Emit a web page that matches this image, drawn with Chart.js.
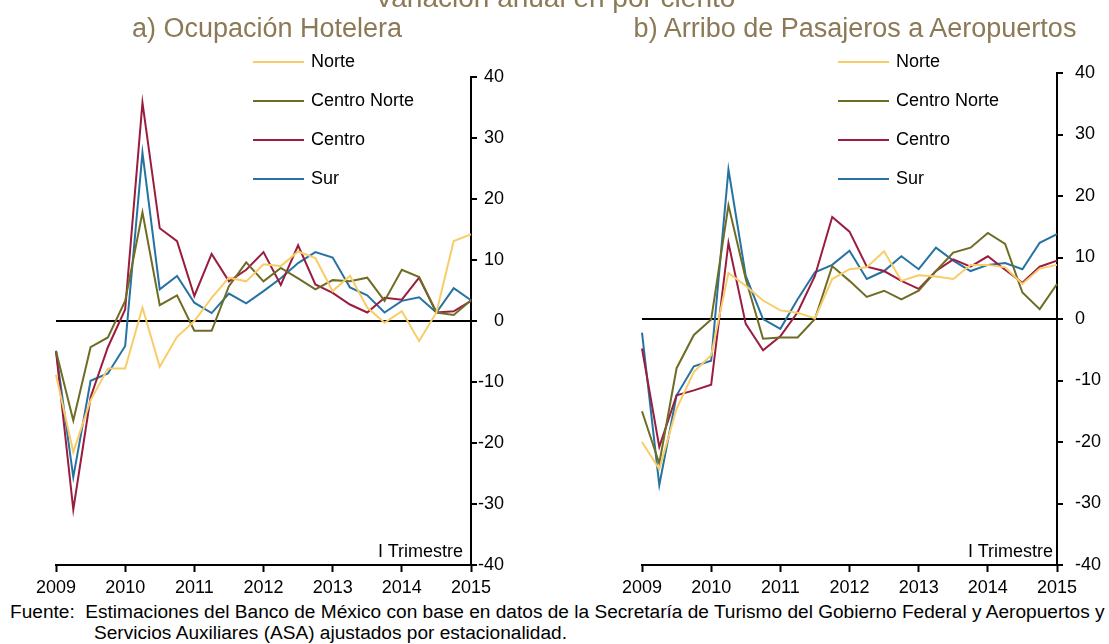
<!DOCTYPE html>
<html>
<head>
<meta charset="utf-8">
<script src="https://cdn.jsdelivr.net/npm/chart.js@4"></script>
<style>
  body { margin: 0; background: #fff; font-family: "Liberation Sans", Arial, sans-serif; }
  #wrap { position: relative; width: 1109px; height: 644px; overflow: hidden; }
  .box { position: absolute; top: 0; height: 600px; }
  .ttl { position: absolute; color: #8B7A55; font-size: 27px; white-space: nowrap; transform: translateX(-50%); }
  .leg { position: absolute; font-size: 18px; color: #000; white-space: nowrap; }
  .leg span { display: inline-block; width: 51px; height: 2px; vertical-align: middle; margin-right: 7px; }
  .tri { position: absolute; font-size: 18px; color: #000; white-space: nowrap; }
  .foot { position: absolute; left: 10px; font-size: 18px; color: #000; white-space: nowrap; transform-origin: left top; transform: scaleX(1.06); }
</style>
</head>
<body>
<div id="wrap">
  <div class="box" style="left:0;width:555px"><canvas id="chartHotel"></canvas></div>
  <div class="box" style="left:555px;width:554px"><canvas id="chartAero"></canvas></div>
  <div class="ttl" style="left:555px;top:-18px;font-size:28px">Variación anual en por ciento</div>
  <div class="ttl" style="left:267px;top:13px">a) Ocupación Hotelera</div>
  <div class="ttl" style="left:855px;top:13px">b) Arribo de Pasajeros a Aeropuertos</div>
  <div id="legHotel"></div>
  <div id="legAero"></div>
  <div class="tri" style="right:646px;top:541px">I Trimestre</div>
  <div class="tri" style="right:56px;top:541px">I Trimestre</div>
  <div class="foot" style="top:602px">Fuente:&nbsp;&nbsp;Estimaciones del Banco de México con base en datos de la Secretaría de Turismo del Gobierno Federal y Aeropuertos y</div>
  <div class="foot" style="top:623px;left:94px">Servicios Auxiliares (ASA) ajustados por estacionalidad.</div>
</div>
<script>
// trimestres 2009-I a 2015-I
const trimestres = [
  '2009-I','2009-II','2009-III','2009-IV',
  '2010-I','2010-II','2010-III','2010-IV',
  '2011-I','2011-II','2011-III','2011-IV',
  '2012-I','2012-II','2012-III','2012-IV',
  '2013-I','2013-II','2013-III','2013-IV',
  '2014-I','2014-II','2014-III','2014-IV',
  '2015-I'
];
const regiones = ['Norte', 'Centro Norte', 'Centro', 'Sur'];
const colores = ['#F8CD68', '#6F6C24', '#9A1D3F', '#2673A3'];
const yTicks = [40, 30, 20, 10, 0, -10, -20, -30, -40];

// a) Ocupacion hotelera
const hotelNorte =       [-8.8, -21.5, -13.0, -7.8, -7.8, 2.2, -7.5, -2.6, 0.0, 3.8, 7.1, 6.5, 9.3, 9.0, 11.4, 10.3, 4.9, 7.4, 2.2, -0.3, 1.6, -3.3, 1.4, 13.1, 14.2];
const hotelCentroNorte = [-4.9, -16.3, -4.3, -2.7, 3.3, 17.8, 2.6, 4.2, -1.6, -1.6, 5.7, 9.6, 6.5, 8.7, 7.0, 5.2, 6.7, 6.5, 7.1, 3.3, 8.4, 7.2, 1.4, 1.0, 3.4];
const hotelCentro =      [-4.9, -30.9, -12.5, -4.3, 1.9, 35.8, 15.2, 13.1, 4.1, 11.0, 6.5, 8.4, 11.3, 5.9, 12.4, 6.0, 4.6, 2.7, 1.4, 3.8, 3.5, 7.1, 1.4, 1.6, 3.3];
const hotelSur =         [-4.9, -25.6, -9.8, -8.6, -4.1, 27.6, 5.2, 7.4, 3.0, 1.3, 4.5, 2.9, 4.9, 7.0, 9.5, 11.3, 10.4, 5.5, 4.2, 1.4, 3.3, 3.9, 1.4, 5.4, 3.4];

// b) Arribo de pasajeros a aeropuertos
const aeroNorte =       [-20.0, -24.4, -14.6, -8.6, -5.9, 7.5, 5.4, 3.0, 1.4, 1.0, 0.1, 6.5, 8.1, 8.4, 11.0, 6.2, 7.1, 6.9, 6.5, 8.8, 8.8, 8.4, 5.7, 8.2, 8.8];
const aeroCentroNorte = [-15.0, -23.5, -8.0, -2.6, -0.1, 18.5, 6.5, -3.2, -3.0, -3.0, 0.0, 8.6, 6.2, 3.6, 4.6, 3.2, 4.6, 7.8, 10.8, 11.6, 14.0, 12.2, 4.3, 1.6, 5.7];
const aeroCentro =      [-4.8, -20.8, -12.4, -11.6, -10.7, 12.4, -0.8, -5.1, -2.8, 1.1, 7.0, 16.6, 14.2, 8.5, 7.8, 6.2, 4.9, 7.8, 9.7, 8.5, 10.2, 8.0, 5.9, 8.5, 9.5];
const aeroSur =         [-2.2, -27.0, -12.4, -7.7, -6.8, 24.3, 7.0, 0.0, -1.6, 3.2, 7.6, 8.8, 11.1, 6.5, 7.8, 10.2, 8.1, 11.6, 9.5, 7.8, 8.8, 9.1, 8.1, 12.4, 13.8];

function makeChart(id, series, pad, axisW, yAlign, yPad) {
    new Chart(document.getElementById(id).getContext('2d'), {
        type: 'line',
        data: {
            labels: trimestres,
            datasets: series.map((s, i) => ({
                label: regiones[i],
                data: s,
                borderColor: colores[i],
                borderWidth: 2,
                pointRadius: 0,
                tension: 0,
                fill: false
            }))
        },
        options: {
            responsive: true,
            maintainAspectRatio: false,
            animation: false,
            layout: { padding: pad },
            plugins: { legend: { display: false }, tooltip: { enabled: false } },
            scales: {
                x: {
                    offset: false,
                    border: { display: true, color: '#000', width: 2 },
                    grid: { drawOnChartArea: false, drawTicks: true, tickLength: 7, tickColor: '#000', tickWidth: 2 },
                    ticks: {
                        autoSkip: false, maxRotation: 0, padding: 5,
                        color: '#000', font: { size: 18, family: 'Liberation Sans' },
                        callback: function(v, i) { return i % 4 === 0 ? trimestres[i].slice(0, 4) : null; }
                    },
                    afterFit: s => { s.height = 35; }
                },
                y: {
                    position: 'right',
                    min: -40, max: 40,
                    border: { display: true, color: '#000', width: 2 },
                    grid: {
                        drawTicks: true, tickLength: 6, tickColor: '#000', tickWidth: 2,
                        color: c => c.tick.value === 0 ? '#000' : 'rgba(0,0,0,0)',
                        lineWidth: c => c.tick.value === 0 ? 2 : 0
                    },
                    afterBuildTicks: s => { s.ticks = yTicks.map(v => ({ value: v })); },
                    ticks: { padding: yPad, crossAlign: yAlign, color: '#000', font: { size: 18, family: 'Liberation Sans' } },
                    afterFit: s => { s.width = axisW; }
                }
            }
        }
    });
}

function makeLegend(id, left, top) {
    let html = '';
    regiones.forEach((r, i) => {
        html += `<div class="leg" style="left:${left}px;top:${top + i * 39}px"><span style="background:${colores[i]}"></span>${r}</div>`;
    });
    document.getElementById(id).innerHTML = html;
}

makeChart('chartHotel', [hotelNorte, hotelCentroNorte, hotelCentro, hotelSur], { left: 56, top: 77, right: 51, bottom: 0 }, 33, 'far', -2);
makeChart('chartAero', [aeroNorte, aeroCentroNorte, aeroCentro, aeroSur], { left: 87, top: 73, right: 0, bottom: 0 }, 52, 'near', 12);
makeLegend('legHotel', 253, 51);
makeLegend('legAero', 838, 51);
</script>
</body>
</html>
